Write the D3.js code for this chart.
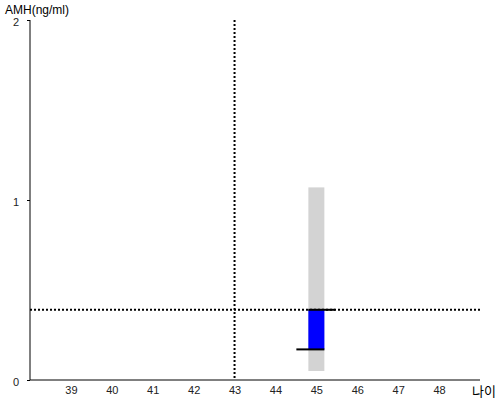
<!DOCTYPE html>
<html><head><meta charset="utf-8">
<script src="https://cdn.jsdelivr.net/npm/d3@7"></script>
<style>body{margin:0;background:#fff}svg{display:block}</style>
</head><body>
<svg id="c" width="500" height="400"></svg>
<script>
const xTicks = [39,40,41,42,43,44,45,46,47,48];
const yTicks = [0,1,2];
const rangeAge = [45];
const rangeLow = [0.05];
const rangeHigh = [1.07];
const barAge = [45];
const barTop = [0.39];
const barBottom = [0.17];
const refAge = 43;
const refValue = 0.39;

const svg = d3.select("#c");
const font = "Arial, 'Liberation Sans', sans-serif";
const x = d3.scaleLinear().domain([38,49]).range([30,480]);
const y = d3.scaleLinear().domain([0,2]).range([380,20]);

// gray range bar
svg.selectAll("rect.rng").data(rangeAge).join("rect")
  .attr("x", d => x(d) - 8).attr("width", 16)
  .attr("y", (d,i) => y(rangeHigh[i]))
  .attr("height", (d,i) => y(rangeLow[i]) - y(rangeHigh[i]))
  .attr("fill", "#d3d3d3");

// reference dotted lines
svg.append("line").attr("x1", x(38)).attr("x2", x(49)).attr("y1", y(refValue)).attr("y2", y(refValue))
  .attr("stroke", "#000").attr("stroke-width", 2).attr("stroke-dasharray", "2,2");
svg.append("line").attr("x1", x(refAge)).attr("x2", x(refAge)).attr("y1", y(2)).attr("y2", y(0))
  .attr("stroke", "#000").attr("stroke-width", 2).attr("stroke-dasharray", "2,2");

// blue bar
svg.selectAll("rect.bar").data(barAge).join("rect")
  .attr("x", d => x(d) - 8).attr("width", 16)
  .attr("y", (d,i) => y(barTop[i]))
  .attr("height", (d,i) => y(barBottom[i]) - y(barTop[i]))
  .attr("fill", "#0000ff");
// open/close ticks
svg.selectAll("line.top").data(barAge).join("line")
  .attr("x1", d => x(d) - 8).attr("x2", d => x(d) + 19)
  .attr("y1", (d,i) => y(barTop[i])).attr("y2", (d,i) => y(barTop[i]))
  .attr("stroke", "#000").attr("stroke-width", 2);
svg.selectAll("line.bot").data(barAge).join("line")
  .attr("x1", d => x(d) - 20).attr("x2", d => x(d) + 8)
  .attr("y1", (d,i) => y(barBottom[i])).attr("y2", (d,i) => y(barBottom[i]))
  .attr("stroke", "#000").attr("stroke-width", 2);

// axes
const xa = svg.append("g").attr("transform", "translate(0,380)")
  .call(d3.axisBottom(x).tickValues(xTicks).tickSize(0).tickPadding(6).tickFormat(d3.format("d")));
xa.select(".domain").attr("d", "M30,0H480").attr("stroke", "#000");
xa.selectAll("text").attr("font-family", font).attr("font-size", 11).attr("fill", "#222");

const ya = svg.append("g").attr("transform", "translate(30,0)")
  .call(d3.axisLeft(y).tickValues(yTicks).tickSize(3).tickPadding(8).tickFormat(d3.format("d")));
ya.select(".domain").attr("d", "M0,20V380").attr("stroke", "#000");
ya.selectAll(".tick line").attr("stroke", "#000");
ya.selectAll("text").attr("font-family", font).attr("font-size", 11).attr("fill", "#222")
  .attr("dy", "0.5em");

svg.append("text").attr("x", 5).attr("y", 14).attr("font-family", font).attr("font-size", 12)
  .attr("fill", "#000").text("AMH(ng/ml)");
svg.append("text").attr("x", 472).attr("y", 396).attr("font-family", "'Noto Sans CJK KR', sans-serif").attr("font-size", 13)
  .attr("fill", "#000").text("나이");
</script>
</body></html>
